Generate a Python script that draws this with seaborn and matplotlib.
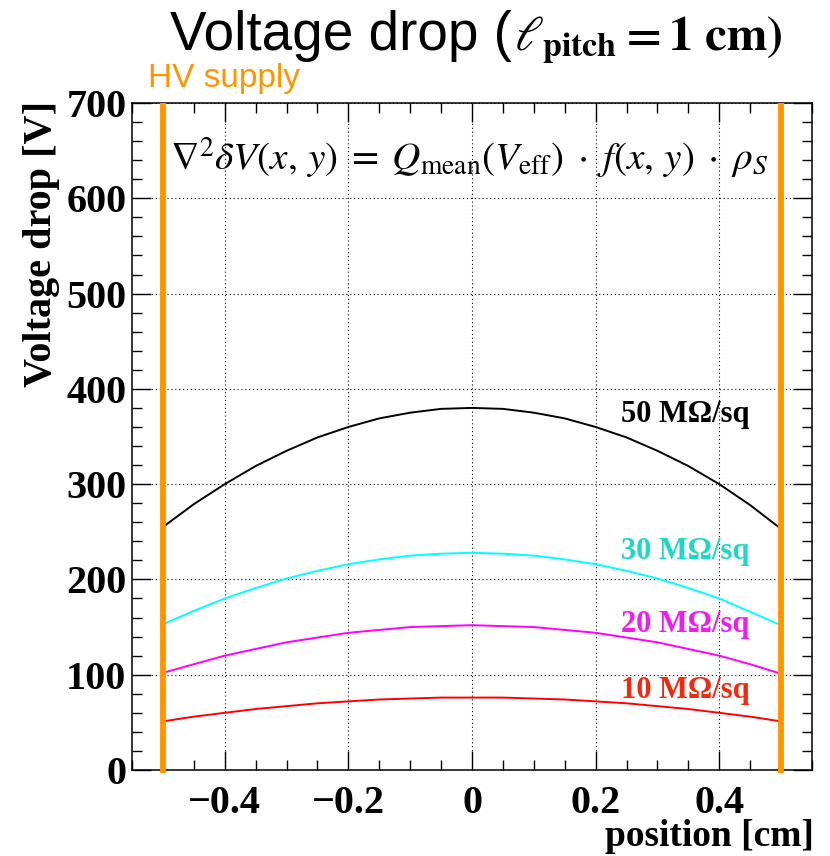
import matplotlib
matplotlib.use("Agg")
import matplotlib.pyplot as plt
import seaborn as sns
import pandas as pd
from matplotlib.ticker import MultipleLocator

# ---- data ----
positions = [-0.50, -0.45, -0.40, -0.35, -0.30, -0.25, -0.20, -0.15, -0.10, -0.05, 0.00,
             0.05, 0.10, 0.15, 0.20, 0.25, 0.30, 0.35, 0.40, 0.45, 0.50]
drop_50 = [255, 279, 300, 319, 335, 349, 360, 369, 375, 379, 380,
           379, 375, 369, 360, 349, 335, 319, 300, 278, 253]
drop_30 = [153, 167, 180, 191, 201, 209, 216, 221, 225, 227, 228,
           227, 225, 221, 216, 209, 201, 191, 180, 166, 152]
drop_20 = [102, 111, 120, 127, 134, 139, 144, 147, 150, 151, 152,
           151, 150, 147, 144, 139, 134, 127, 120, 111, 101]
drop_10 = [51, 56, 60, 64, 67, 70, 72, 74, 75, 76, 76,
           76, 75, 74, 72, 70, 67, 64, 60, 56, 51]
series_names = ["50 M\u03a9/sq", "30 M\u03a9/sq", "20 M\u03a9/sq", "10 M\u03a9/sq"]
series_values = [drop_50, drop_30, drop_20, drop_10]
label_y = [373, 229, 153, 83]
hv_positions = [-0.5, 0.5]
x_ticks = [-0.4, -0.2, 0, 0.2, 0.4]
x_tick_labels = ["\u22120.4", "\u22120.2", "0", "0.2", "0.4"]

line_colors = ["#000000", "#00ffff", "#ff00ff", "#ff0000"]
label_colors = ["#000000", "#1ed8c4", "#ee1cee", "#ee2a10"]
orange = "#ff9600"

rows = []
for name, vals in zip(series_names, series_values):
    for xp, v in zip(positions, vals):
        rows.append({"position": xp, "drop": v, "series": name})
df = pd.DataFrame(rows)

sns.set_theme(style="ticks")
plt.rcParams["font.family"] = ["Liberation Serif", "DejaVu Serif"]
plt.rcParams["mathtext.fontset"] = "stix"
plt.rcParams["text.color"] = "black"
plt.rcParams["axes.labelcolor"] = "black"
plt.rcParams["xtick.color"] = "black"
plt.rcParams["ytick.color"] = "black"

fig = plt.figure(figsize=(8.3, 8.56), dpi=100)
ax = fig.add_axes([132/830, 1-770/856, (812-132)/830, (770-103)/856])

sns.lineplot(data=df, x="position", y="drop", hue="series", palette=dict(zip(series_names, line_colors)),
             linewidth=1.4, legend=False, ax=ax, sort=True)

ax.set_xlim(-0.55, 0.55)
ax.set_ylim(0, 700)

# HV supply lines
ax.vlines(hv_positions, -3, 700, colors=orange, linewidth=4.2, clip_on=False, zorder=5)

# grid
ax.set_xticks(x_ticks)
ax.set_xticklabels(x_tick_labels)
ax.yaxis.set_major_locator(MultipleLocator(100))
ax.xaxis.set_minor_locator(MultipleLocator(0.05))
ax.yaxis.set_minor_locator(MultipleLocator(20))
ax.grid(True, which="major", color="black", linestyle=(0, (1, 2.5)), linewidth=0.8)

ax.tick_params(which="both", direction="in", top=True, right=True, colors="black")
ax.tick_params(which="major", length=14, width=1.0)
ax.tick_params(which="minor", length=7, width=1.0)
ax.tick_params(axis="x", which="major", pad=11)
ax.tick_params(axis="y", which="major", pad=4)
for lab in ax.get_xticklabels() + ax.get_yticklabels():
    lab.set_fontsize(29)
    lab.set_fontweight("bold")
    lab.set_color("black")
for sp in ax.spines.values():
    sp.set_color("black")
    sp.set_linewidth(1.1)
ax.set_xlabel("")
ax.set_ylabel("")

# series labels
for name, yv, c in zip(series_names, label_y, label_colors):
    ax.text(0.449, yv, name, ha="right", va="center", fontsize=22, fontweight="bold", color=c)

# equation
ax.text(-0.488, 643,
        r"$\nabla^{2}\delta V(x,\, y)\;=\;Q_{\mathrm{mean}}(V_{\mathrm{eff}})\;\cdot\; f(x,\, y)\;\cdot\;\rho_{S}$",
        ha="left", va="center", fontsize=28.3, color="black")

# axis titles
fig.text(42/830, 1-101/856, "Voltage drop [V]", rotation=90, ha="center", va="top",
         fontsize=29, fontweight="bold", color="black")
fig.text(814/830, 1-846/856, "position [cm]", ha="right", va="baseline", fontsize=27,
         fontweight="bold", color="black")

# title
fig.text(0.617, 1-50/856, "Voltage drop (", ha="right", va="baseline", fontsize=39.5,
         family=["Liberation Sans", "DejaVu Sans"], color="black")
fig.text(0.619, 1-50/856, r"$\ell_{\mathbf{pitch}}\mathbf{=1\ cm)}$", ha="left", va="baseline",
         fontsize=35, color="black")

# HV supply label
fig.text(148/830, 1-87/856, "HV supply", ha="left", va="baseline", fontsize=24,
         family=["Liberation Sans", "DejaVu Sans"], color=orange)

fig.savefig("out.png", dpi=100)
